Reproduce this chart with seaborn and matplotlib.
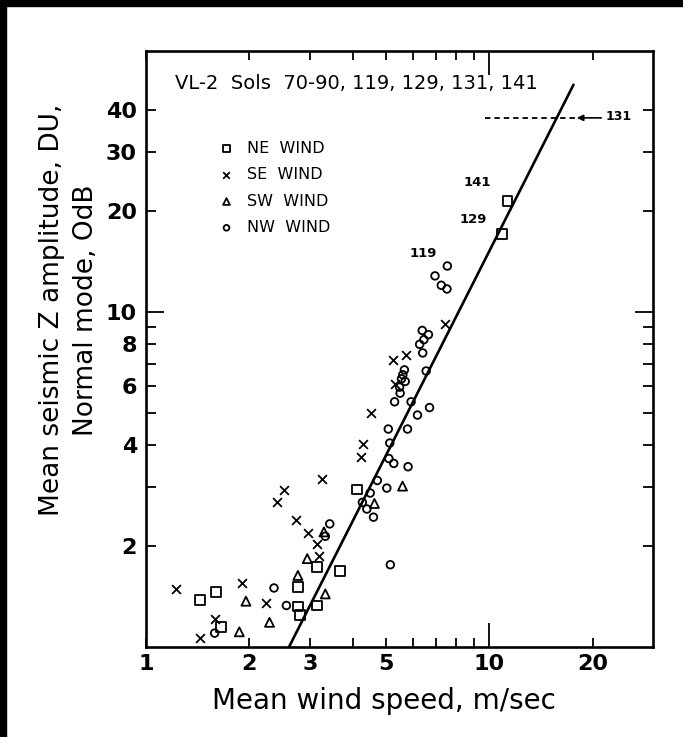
import matplotlib
matplotlib.use("Agg")
import matplotlib.pyplot as plt
import seaborn as sns
from matplotlib.ticker import FixedLocator, FixedFormatter
from matplotlib.patches import Rectangle

# ---------------- data ----------------
ne_x = [1.44, 1.60, 1.65, 2.77, 2.77, 2.81, 3.15, 3.15, 3.68, 4.12, 10.9, 11.3]
ne_y = [1.38, 1.457, 1.15, 1.51, 1.32, 1.245, 1.33, 1.73, 1.69, 2.95, 17.05, 21.4]

se_x = [1.22, 1.90, 2.24, 1.59, 1.44, 2.41, 2.52, 3.26, 2.73, 2.96, 3.14, 3.20,
        4.28, 4.22, 4.53, 5.26, 5.74, 5.30, 7.42]
se_y = [1.485, 1.55, 1.35, 1.21, 1.065, 2.70, 2.935, 3.18, 2.39, 2.19, 2.035, 1.87,
        4.045, 3.69, 5.0, 7.2, 7.45, 6.1, 9.2]

sw_x = [1.955, 1.87, 2.29, 2.77, 2.95, 3.30, 3.33, 4.63, 5.59]
sw_y = [1.37, 1.11, 1.185, 1.635, 1.835, 2.205, 1.44, 2.68, 3.02]

nw_x = [1.585, 2.36, 2.565, 3.43, 3.33, 5.15, 4.50, 4.72, 4.40, 4.60, 4.27, 5.03,
        5.10, 5.27, 5.13, 5.80, 5.08, 5.78, 6.18, 6.70, 5.92, 5.30, 5.50, 5.48,
        5.69, 5.55, 5.60, 5.66, 6.55, 6.40, 6.27, 6.45, 6.65, 6.38, 6.95, 7.25,
        7.53, 7.55]
nw_y = [1.10, 1.50, 1.33, 2.33, 2.14, 1.76, 2.88, 3.14, 2.58, 2.44, 2.70, 2.98,
        3.65, 3.53, 4.06, 3.45, 4.47, 4.47, 4.92, 5.18, 5.39, 5.39, 5.72, 5.96,
        6.20, 6.31, 6.49, 6.71, 6.66, 7.54, 8.00, 8.26, 8.55, 8.80, 12.8, 12.0,
        11.7, 13.7]

fit_x = [2.61, 17.6]
fit_y = [1.0, 47.6]

sol131_x = [9.75, 18.0]
sol131_y = [37.9, 37.9]

series_labels = ["NE  WIND", "SE  WIND", "SW  WIND", "NW  WIND"]
sol_labels = ["141", "129", "119"]
sol_label_x = [9.24, 8.99, 6.43]
sol_label_y = [24.3, 18.8, 14.9]

x_minor_ticks = [1, 2, 3, 4, 5, 6, 7, 8, 9, 20]
x_minor_labels = ["1", "2", "3", "", "5", "", "", "", "", "20"]
y_minor_ticks = [2, 3, 4, 5, 6, 7, 8, 9, 20, 30, 40]
y_minor_labels = ["2", "", "4", "", "6", "", "8", "", "20", "30", "40"]

# ---------------- figure ----------------
sns.set_style("ticks")
plt.rcParams["font.family"] = ["DejaVu Sans"]
plt.rcParams["text.color"] = "black"
plt.rcParams["axes.labelcolor"] = "black"
plt.rcParams["xtick.color"] = "black"
plt.rcParams["ytick.color"] = "black"

W, H = 683, 737
fig = plt.figure(figsize=(W / 100, H / 100), dpi=100)
fig.patch.set_facecolor("white")
ax = fig.add_axes([146 / W, 1 - 647 / H, 507 / W, 596 / H])
ax.set_xscale("log")
ax.set_yscale("log")

mk = dict(linewidth=1.3, zorder=3)
sns.scatterplot(x=ne_x, y=ne_y, marker="s", s=50, facecolor="none",
                edgecolor="black", label=series_labels[0], ax=ax, **mk)
sns.scatterplot(x=se_x, y=se_y, marker="x", s=40, color="black",
                label=series_labels[1], ax=ax, **mk)
sns.scatterplot(x=sw_x, y=sw_y, marker="^", s=42, facecolor="none",
                edgecolor="black", label=series_labels[2], ax=ax, **mk)
sns.scatterplot(x=nw_x, y=nw_y, marker="o", s=30, facecolor="none",
                edgecolor="black", label=series_labels[3], ax=ax, **mk)

sns.lineplot(x=fit_x, y=fit_y, color="black", linewidth=1.9, ax=ax, zorder=2)
ax.plot(sol131_x, sol131_y, color="black", linewidth=1.3, linestyle=(0, (3, 2.2)))
ax.annotate("", xy=(sol131_x[1], sol131_y[0]), xytext=(21.2, sol131_y[0]),
            arrowprops=dict(arrowstyle="-|>", color="black", lw=1.2,
                            mutation_scale=9, shrinkA=0, shrinkB=0))
ax.text(21.8, 38.3, "131", fontsize=9, fontweight="bold", va="center", ha="left")

for t, tx, ty in zip(sol_labels, sol_label_x, sol_label_y):
    ax.text(tx, ty, t, fontsize=9.5, fontweight="bold", va="center", ha="center")

ax.text(0.057, 0.946, "VL-2  Sols  70-90, 119, 129, 131, 141",
        transform=ax.transAxes, fontsize=14, va="center", ha="left")

ax.set_xlim(1, 30)
ax.set_ylim(1, 60)

# ticks
ax.xaxis.set_major_locator(FixedLocator([10]))
ax.xaxis.set_major_formatter(FixedFormatter(["10"]))
ax.xaxis.set_minor_locator(FixedLocator(x_minor_ticks))
ax.xaxis.set_minor_formatter(FixedFormatter(x_minor_labels))
ax.yaxis.set_major_locator(FixedLocator([10]))
ax.yaxis.set_major_formatter(FixedFormatter(["10"]))
ax.yaxis.set_minor_locator(FixedLocator(y_minor_ticks))
ax.yaxis.set_minor_formatter(FixedFormatter(y_minor_labels))

for a in ("x", "y"):
    ax.tick_params(axis=a, which="both", direction="in", top=True, right=True,
                   width=1.3, color="black", labelsize=16, labelcolor="black")
ax.tick_params(axis="x", which="major", length=17, pad=5)
ax.tick_params(axis="x", which="minor", length=6.5, pad=5)
ax.tick_params(axis="y", which="major", length=13, pad=6.5)
ax.tick_params(axis="y", which="minor", length=7, pad=6.5)
for lab in ax.get_xticklabels(which="both") + ax.get_yticklabels(which="both"):
    lab.set_fontweight("bold")

for sp in ax.spines.values():
    sp.set_linewidth(1.9)
    sp.set_color("black")

ax.set_xlabel("Mean wind speed, m/sec", fontsize=20, color="black")
ax.xaxis.set_label_coords(0.47, -0.067)
ax.set_ylabel("Mean seismic Z amplitude, DU,\nNormal mode, OdB", fontsize=19,
              linespacing=1.4, color="black")
ax.yaxis.set_label_coords(-0.093, 0.565)

leg = ax.legend(loc="upper left", bbox_to_anchor=(0.143, 0.849), frameon=False,
                fontsize=11.5, handlelength=1.0, handletextpad=0.76,
                labelspacing=0.71, borderpad=0, borderaxespad=0, markerscale=0.75)
for t in leg.get_texts():
    t.set_color("black")

# scan border
fig.patches.append(Rectangle((0, 0), 6 / W, 1, transform=fig.transFigure,
                             color="black", zorder=10))
fig.patches.append(Rectangle((0, 1 - 6 / H), 1, 6 / H, transform=fig.transFigure,
                             color="black", zorder=10))

fig.savefig("out.png", dpi=100)
